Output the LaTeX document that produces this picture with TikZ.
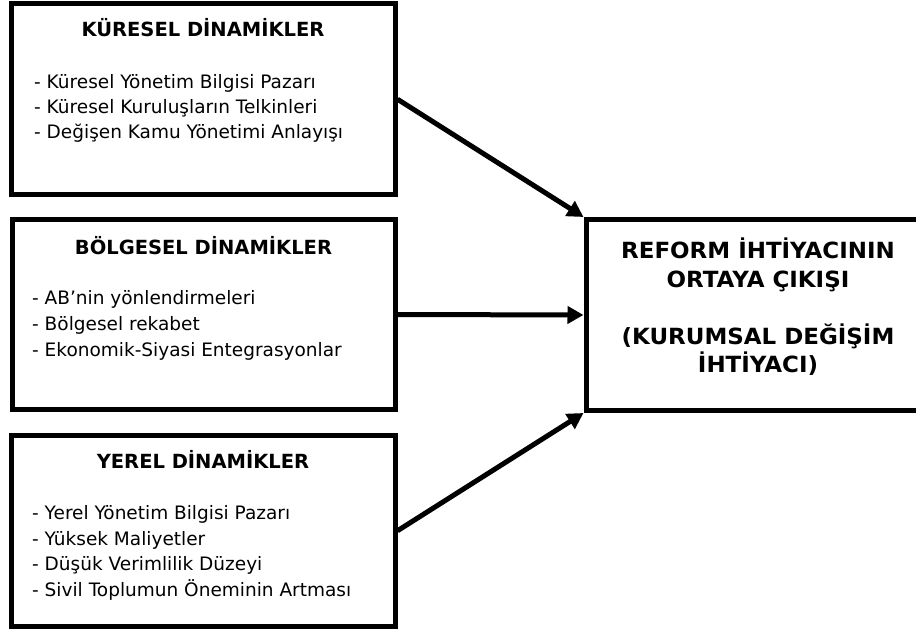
\documentclass[tikz,border=0pt]{standalone}
\usepackage{fontspec}
\setmainfont{DejaVu Sans}
\newfontfamily\rfont{DejaVu Sans}[FakeStretch=1.03]
\usetikzlibrary{arrows.meta}
\tikzset{
  box/.style={draw=black, line width=5pt, rectangle, inner sep=0pt},
  ttl/.style={font=\bfseries\fontsize{19.5}{23}\selectfont, inner sep=0pt, anchor=base},
  itm/.style={font=\fontsize{18.5}{25}\selectfont, inner sep=0pt, anchor=base west},
  rtext/.style={font=\rfont\bfseries\fontsize{22.3}{28.5}\selectfont, align=center, inner sep=0pt},
  conn/.style={line width=5pt, -{Triangle[length=16pt,width=17pt]}}
}
\begin{document}
\begin{tikzpicture}[x=1pt,y=-1pt]
\useasboundingbox (0,0) rectangle (916,631);
\clip (0,0) rectangle (916,631);
% boxes
\node[box, minimum width=384pt, minimum height=190.5pt] (kb) at (203,99.25) {};
\node[box, minimum width=383pt, minimum height=189pt] (bb) at (203.5,314.5) {};
\node[box, minimum width=384pt, minimum height=190.5pt] (yb) at (203,530.75) {};
\node[box, minimum width=344pt, minimum height=191pt] (rf) at (758,315) {};
% titles
\node[ttl] (kt) at (203,36.5) {KÜRESEL DİNAMİKLER};
\node[ttl] (bt) at (203.5,254.5) {BÖLGESEL DİNAMİKLER};
\node[ttl] (yt) at (203,468.5) {YEREL DİNAMİKLER};
% items
\node[itm] (k1) at (34,89) {- Küresel Yönetim Bilgisi Pazarı};
\node[itm] (k2) at (34,114) {- Küresel Kuruluşların Telkinleri};
\node[itm] (k3) at (34,139) {- Değişen Kamu Yönetimi Anlayışı};
\node[itm] (b1) at (32,305) {- AB’nin yönlendirmeleri};
\node[itm] (b2) at (32,330.5) {- Bölgesel rekabet};
\node[itm] (b3) at (32,356) {- Ekonomik-Siyasi Entegrasyonlar};
\node[itm] (y1) at (32,519.5) {- Yerel Yönetim Bilgisi Pazarı};
\node[itm] (y2) at (32,545) {- Yüksek Maliyetler};
\node[itm] (y3) at (32,570.5) {- Düşük Verimlilik Düzeyi};
\node[itm] (y4) at (32,596) {- Sivil Toplumun Öneminin Artması};
% reform text
\node[rtext] (rt) at (758,307) {REFORM İHTİYACININ\\ORTAYA ÇIKIŞI\\[28.5pt](KURUMSAL DEĞİŞİM\\İHTİYACI)};
% connectors
\draw[conn] (kb.east) -- (rf.north west);
\draw[conn] (bb.east) -- (rf.west);
\draw[conn] (yb.east) -- (rf.south west);
\end{tikzpicture}
\end{document}
